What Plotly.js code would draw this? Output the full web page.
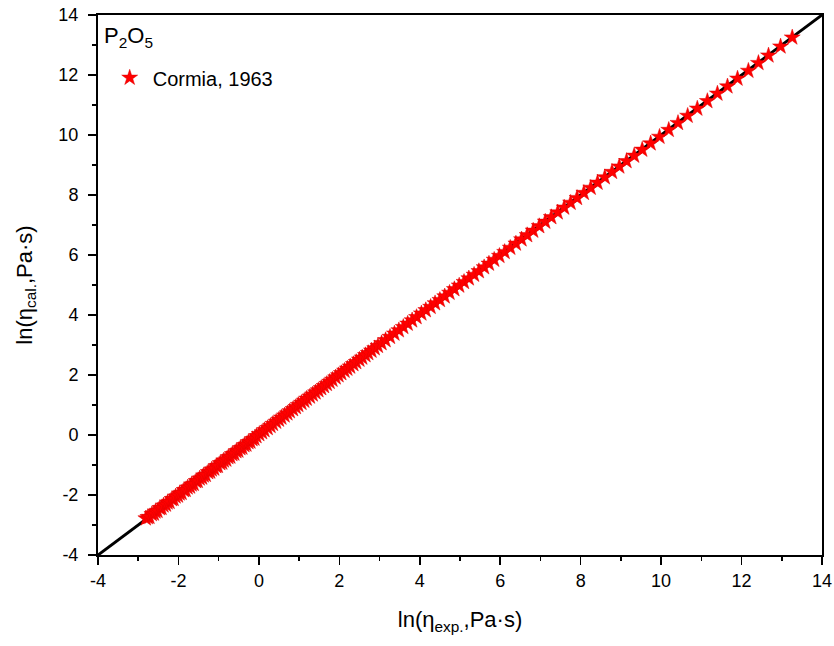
<!DOCTYPE html>
<html>
<head>
<meta charset="utf-8">
<script src="https://cdn.plot.ly/plotly-3.0.1.min.js"></script>
<style>html,body{margin:0;padding:0;background:#fff;}#chart{width:834px;height:646px;}</style>
</head>
<body>
<div id="chart"></div>
<script>
// Experimental ln(viscosity) values (x) and calculated ln(viscosity) values (y), P2O5, Cormia 1963
const lnEtaExp = [
  -2.81,-2.76,-2.72,-2.66,-2.61,-2.57,-2.52,-2.46,-2.42,-2.37,-2.31,-2.27,-2.22,-2.16,-2.12,-2.07,-2.01,-1.97,-1.92,-1.86,
  -1.82,-1.77,-1.71,-1.67,-1.62,-1.56,-1.52,-1.47,-1.41,-1.37,-1.32,-1.26,-1.21,-1.17,-1.11,-1.06,-1.02,-0.96,-0.91,-0.87,
  -0.81,-0.76,-0.71,-0.66,-0.61,-0.56,-0.51,-0.46,-0.41,-0.36,-0.31,-0.26,-0.21,-0.16,-0.11,-0.06,
  0.01,0.08,0.14,0.22,0.29,0.35,0.43,0.50,0.56,0.64,0.71,0.77,0.85,0.92,0.98,1.06,1.13,1.19,1.27,1.34,1.41,1.48,1.55,1.62,
  1.69,1.76,1.83,1.91,1.98,2.05,2.13,2.20,2.27,2.35,2.42,2.50,2.57,2.65,2.72,2.80,2.88,2.96,
  3.05,3.15,3.26,3.37,3.48,3.59,3.70,3.81,3.92,4.04,4.15,4.27,4.38,4.50,4.62,4.74,4.86,4.98,5.10,5.22,5.35,5.47,5.60,5.72,5.85,5.98,
  6.11,6.25,6.39,6.53,6.67,6.82,6.97,7.12,7.27,7.43,7.59,7.75,7.91,8.08,8.25,8.42,8.60,8.78,8.96,9.14,
  9.33,9.53,9.74,9.96,10.19,10.42,10.66,10.90,11.15,11.40,11.65,11.90,12.17,12.42,12.67,12.97,13.26
];
const lnEtaCal = [
  -2.78,-2.74,-2.73,-2.64,-2.62,-2.55,-2.53,-2.44,-2.43,-2.35,-2.32,-2.25,-2.23,-2.14,-2.13,-2.05,-2.02,-1.95,-1.93,-1.84,
  -1.83,-1.75,-1.72,-1.65,-1.63,-1.54,-1.53,-1.45,-1.42,-1.35,-1.33,-1.24,-1.22,-1.15,-1.12,-1.04,-1.03,-0.94,-0.92,-0.85,
  -0.82,-0.74,-0.72,-0.64,-0.62,-0.54,-0.52,-0.44,-0.42,-0.34,-0.32,-0.24,-0.22,-0.14,-0.12,-0.04,
  0.03,0.09,0.16,0.23,0.30,0.37,0.44,0.51,0.58,0.65,0.72,0.79,0.86,0.93,1.00,1.07,1.14,1.21,1.28,1.35,1.42,1.49,1.56,1.63,
  1.70,1.77,1.84,1.92,1.99,2.06,2.14,2.21,2.28,2.36,2.43,2.51,2.58,2.66,2.73,2.81,2.89,2.97,
  3.06,3.16,3.27,3.38,3.49,3.60,3.71,3.82,3.93,4.05,4.16,4.27,4.39,4.50,4.62,4.74,4.86,4.98,5.10,5.22,5.34,5.46,5.59,5.71,5.84,5.97,
  6.10,6.24,6.38,6.52,6.66,6.81,6.96,7.11,7.26,7.42,7.58,7.74,7.90,8.07,8.24,8.41,8.59,8.77,8.95,9.13,
  9.31,9.51,9.72,9.94,10.17,10.40,10.64,10.88,11.13,11.38,11.62,11.88,12.14,12.40,12.65,12.95,13.25
];
// y = x reference line end points
const refLineX = [-4, 14];
const refLineY = [-4, 14];
// Tick positions and labels (plain hyphen as in the original)
const tickValues = [-4, -2, 0, 2, 4, 6, 8, 10, 12, 14];
const tickLabels = ["-4", "-2", "0", "2", "4", "6", "8", "10", "12", "14"];
const seriesName = "Cormia, 1963";
const compoundLabel = "P<sub>2</sub>O<sub>5</sub>";

const traces = [
  {
    x: refLineX, y: refLineY, mode: "lines", type: "scatter",
    line: {color: "#000", width: 3}, showlegend: false, hoverinfo: "skip"
  },
  {
    x: lnEtaExp, y: lnEtaCal, mode: "markers", type: "scatter", name: seriesName,
    marker: {symbol: "star", size: 12, color: "#ff0000", line: {color: "#e00000", width: 0.5}}
  }
];

const axisCommon = {
  range: [-4, 14],
  tickmode: "array", tickvals: tickValues, ticktext: tickLabels,
  showgrid: false, zeroline: false,
  showline: true, linecolor: "#000", linewidth: 2, mirror: true,
  ticks: "outside", ticklen: 8, tickwidth: 1.5, tickcolor: "#000",
  minor: {ticks: "outside", ticklen: 4, tickwidth: 1.5, tickcolor: "#000", tickmode: "linear", tick0: -4, dtick: 1},
  tickfont: {family: "Liberation Sans, Arial, sans-serif", size: 18, color: "#000"}
};

const layout = {
  width: 834, height: 646,
  margin: {l: 98, r: 12, t: 15, b: 91},
  paper_bgcolor: "#fff", plot_bgcolor: "#fff",
  font: {family: "Liberation Sans, Arial, sans-serif", color: "#000"},
  xaxis: Object.assign({}, axisCommon, {
    ticklabelstandoff: 0,
    title: {text: "ln(η<sub>exp.</sub>,Pa·s)", font: {size: 22, color: "#000"}, standoff: 22}
  }),
  yaxis: Object.assign({}, axisCommon, {
    ticklabelstandoff: 6,
    title: {text: "ln(η<sub>cal.</sub>,Pa·s)", font: {size: 22, color: "#000"}, standoff: 20}
  }),
  showlegend: true,
  legend: {
    x: 0.012, y: 0.92, xanchor: "left", yanchor: "top",
    bgcolor: "rgba(0,0,0,0)", borderwidth: 0,
    font: {size: 20, color: "#000"}, itemwidth: 36
  },
  annotations: [
    {text: compoundLabel, xref: "paper", yref: "paper", x: 0.006, y: 0.988,
     xanchor: "left", yanchor: "top", showarrow: false, font: {size: 22, color: "#000"}}
  ]
};

Plotly.newPlot("chart", traces, layout, {displayModeBar: false, staticPlot: true});
</script>
</body>
</html>
